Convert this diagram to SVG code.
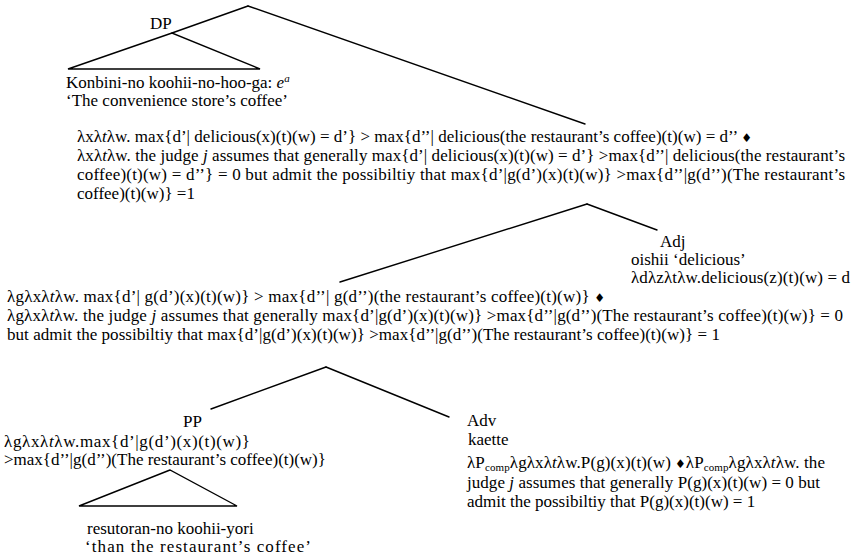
<svg xmlns="http://www.w3.org/2000/svg" width="855" height="555" viewBox="0 0 855 555">
  <style>
    text { font-family: "Liberation Serif", "Times New Roman", serif; font-size: 17px; fill: #000; }
    .it { font-style: italic; }
    .dia { font-family: "DejaVu Sans", sans-serif; font-size: 12px; }
    .sub { font-size: 11px; }
    .edge { stroke: #000; stroke-width: 1.4; fill: none; stroke-linecap: round; }
  </style>

  <!-- tree branches -->
  <g id="connectors">
    <path class="edge" d="M248,6 L172,33"/>
    <path class="edge" d="M248,6 L585,124"/>
    <path class="edge" d="M587,204 L657,230"/>
    <path class="edge" d="M587,204 L340,282"/>
    <path class="edge" d="M326,367 L211,409"/>
    <path class="edge" d="M326,367 L449,417"/>
  </g>

  <!-- subject DP with its roof -->
  <g id="dp">
    <text x="150" y="29">DP</text>
    <path class="edge" d="M172,33 L68,69 L260,69 Z"/>
    <text x="66" y="88">Konbini-no koohii-no-hoo-ga: <tspan class="it">e</tspan><tspan class="it" font-size="11" dy="-6">a</tspan></text>
    <text x="66" y="106">‘The convenience store’s coffee’</text>
  </g>

  <!-- predicate meaning -->
  <g id="vp">
    <text x="77" y="142" textLength="675" lengthAdjust="spacing">λxλ<tspan class="it">t</tspan>λw. max{d’| delicious(x)(t)(w) = d’} &gt; max{d’’| delicious(the restaurant’s coffee)(t)(w) = d’’ <tspan class="dia">♦</tspan></text>
    <text x="77" y="161" textLength="768" lengthAdjust="spacing">λxλ<tspan class="it">t</tspan>λw. the judge <tspan class="it">j</tspan> assumes that generally max{d’| delicious(x)(t)(w) = d’} &gt;max{d’’| delicious(the restaurant’s</text>
    <text x="77" y="180" textLength="768" lengthAdjust="spacing">coffee)(t)(w) = d’’} = 0 but admit the possibiltiy that max{d’|g(d’)(x)(t)(w)} &gt;max{d’’|g(d’’)(The restaurant’s</text>
    <text x="77" y="199">coffee)(t)(w)} =1</text>
  </g>

  <!-- adjective -->
  <g id="adj">
    <text x="660" y="247">Adj</text>
    <text x="631" y="265">oishii ‘delicious’</text>
    <text x="631" y="283" textLength="219" lengthAdjust="spacing">λdλzλtλw.delicious(z)(t)(w) = d</text>
  </g>

  <!-- comparative phrase meaning -->
  <g id="adjp">
    <text x="7" y="302" textLength="598" lengthAdjust="spacing">λgλxλ<tspan class="it">t</tspan>λw. max{d’| g(d’)(x)(t)(w)} &gt; max{d’’| g(d’’)(the restaurant’s coffee)(t)(w)} <tspan class="dia">♦</tspan></text>
    <text x="7" y="321" textLength="836" lengthAdjust="spacing">λgλxλ<tspan class="it">t</tspan>λw. the judge <tspan class="it">j</tspan> assumes that generally max{d’|g(d’)(x)(t)(w)} &gt;max{d’’|g(d’’)(The restaurant’s coffee)(t)(w)} = 0</text>
    <text x="7" y="340" textLength="713" lengthAdjust="spacing">but admit the possibiltiy that max{d’|g(d’)(x)(t)(w)} &gt;max{d’’|g(d’’)(The restaurant’s coffee)(t)(w)} = 1</text>
  </g>

  <!-- PP standard of comparison -->
  <g id="pp">
    <text x="183" y="427">PP</text>
    <text x="4" y="447" textLength="246" lengthAdjust="spacing">λgλxλ<tspan class="it">t</tspan>λw.max{d’|g(d’)(x)(t)(w)}</text>
    <text x="4" y="465">&gt;max{d’’|g(d’’)(The restaurant’s coffee)(t)(w)}</text>
    <path class="edge" d="M170,470 L79,506 L237,506 Z"/>
    <text x="87" y="534">resutoran-no koohii-yori</text>
    <text x="85" y="552" textLength="226" lengthAdjust="spacing">‘than the restaurant’s coffee’</text>
  </g>

  <!-- adverb kaette -->
  <g id="adv">
    <text x="467" y="426">Adv</text>
    <text x="468" y="445">kaette</text>
    <text x="467" y="468" textLength="358" lengthAdjust="spacing">λP<tspan class="sub" dy="3">comp</tspan><tspan dy="-3">λgλxλ</tspan><tspan class="it">t</tspan>λw.P(g)(x)(t)(w)<tspan class="dia"> ♦</tspan>λP<tspan class="sub" dy="3">comp</tspan><tspan dy="-3">λgλxλ</tspan><tspan class="it">t</tspan>λw. the</text>
    <text x="467" y="488" textLength="353" lengthAdjust="spacing">judge <tspan class="it">j</tspan> assumes that generally P(g)(x)(t)(w) = 0 but</text>
    <text x="467" y="507">admit the possibiltiy that P(g)(x)(t)(w) = 1</text>
  </g>
</svg>
